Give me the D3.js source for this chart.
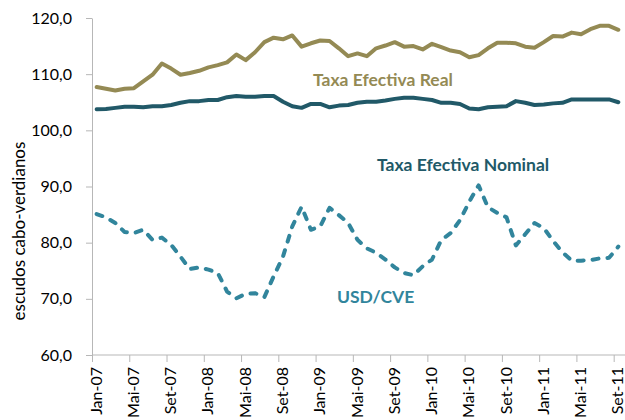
<!DOCTYPE html>
<html>
<head>
<meta charset="utf-8">
<script src="https://cdn.jsdelivr.net/npm/d3@7"></script>
<style>
  body { margin: 0; background: #fff; }
  text { font-family: Lato, "Noto Sans", sans-serif; }
</style>
</head>
<body>
<div id="container"></div>
<script>
// meses e anos (categorias mensais Jan-07 .. Set-11)
const meses = ["Jan", "Fev", "Mar", "Abr", "Mai", "Jun", "Jul", "Ago", "Set", "Out", "Nov", "Dez"];
const anos = ["07", "08", "09", "10", "11"];

const taxaReal = [107.7, 107.4, 107.1, 107.4, 107.5, 108.7, 109.9, 111.9, 111.0, 109.9, 110.2, 110.6,
    111.2, 111.6, 112.1, 113.5, 112.5, 113.9, 115.7, 116.5, 116.2, 116.9, 114.9, 115.5,
    116.0, 115.9, 114.6, 113.2, 113.7, 113.2, 114.6, 115.1, 115.7, 114.9, 115.0, 114.4,
    115.4, 114.8, 114.2, 113.9, 113.0, 113.4, 114.6, 115.6, 115.6, 115.5, 114.9, 114.7,
    115.7, 116.8, 116.7, 117.4, 117.1, 118.0, 118.6, 118.6, 117.9];

const taxaNominal = [103.75, 103.8, 104.0, 104.2, 104.2, 104.1, 104.3, 104.3, 104.5, 104.9, 105.2, 105.2,
    105.4, 105.4, 105.9, 106.1, 106.0, 106.0, 106.1, 106.1, 105.1, 104.3, 104.0, 104.7,
    104.7, 104.1, 104.4, 104.5, 104.9, 105.1, 105.1, 105.3, 105.6, 105.8, 105.8, 105.6,
    105.4, 104.9, 104.9, 104.7, 103.9, 103.75, 104.1, 104.2, 104.3, 105.2, 104.9, 104.5,
    104.6, 104.8, 104.9, 105.5, 105.5, 105.5, 105.5, 105.5, 105.0];

const usdCve = [85.1, 84.5, 83.5, 81.9, 81.7, 82.3, 80.5, 80.9, 79.6, 77.5, 75.3, 75.6,
    75.2, 74.6, 71.3, 70.1, 70.9, 71.0, 70.3, 74.0, 77.5, 82.9, 86.4, 82.3,
    82.9, 86.2, 84.9, 83.5, 80.5, 79.0, 78.2, 77.0, 75.6, 74.6, 74.2, 75.8,
    77.0, 80.5, 81.7, 84.0, 87.3, 90.2, 86.3, 85.3, 84.5, 79.5, 81.5, 83.5,
    82.6, 80.3, 78.3, 76.8, 76.8, 76.9, 77.2, 77.3, 79.3];

const yTicks = [60, 70, 80, 90, 100, 110, 120];

let categorias = [];
for (let a of anos) {
    for (let m of meses) {
        categorias.push(m + "-" + a);
    }
}
categorias = categorias.slice(0, taxaReal.length);

const width = 625;
const height = 420;
const margin = ({ top: 18, right: 2, bottom: 65, left: 92 });
const axisColor = "#b7b7b7";

let x = d3.scaleBand()
    .domain(categorias)
    .range([margin.left, width - margin.right])
    .padding(0);

let y = d3.scaleLinear()
    .domain([60, 120])
    .range([height - margin.bottom, margin.top]);

let fmt = d => d3.format(".1f")(d).replace(".", ",");

let svg = d3.select("#container").append("svg")
    .attr("width", width)
    .attr("height", height);

// eixo y
let yAxis = svg.append("g")
    .attr("transform", `translate(${margin.left},0)`)
    .call(d3.axisLeft(y).tickValues(yTicks).tickFormat(fmt).tickSize(6).tickSizeOuter(0).tickPadding(14));
yAxis.select(".domain").attr("stroke", axisColor);
yAxis.selectAll(".tick line").attr("stroke", axisColor);
yAxis.selectAll(".tick text")
    .attr("fill", "#000")
    .style("font-size", "16px");

// eixo x
let xg = svg.append("g");
xg.append("line")
    .attr("x1", margin.left)
    .attr("x2", width)
    .attr("y1", y(60))
    .attr("y2", y(60))
    .attr("stroke", axisColor);

let tickCats = categorias.filter((d, i) => i % 4 == 0);

xg.selectAll(".xt")
    .data(tickCats)
    .join("line")
    .attr("class", "xt")
    .attr("x1", d => x(d) + 0.5)
    .attr("x2", d => x(d) + 0.5)
    .attr("y1", y(60))
    .attr("y2", y(60) + 7)
    .attr("stroke", axisColor);

xg.selectAll(".xl")
    .data(tickCats)
    .join("text")
    .attr("class", "xl")
    .attr("transform", d => `translate(${x(d) + x.bandwidth() / 2 + 5},${y(60) + 12}) rotate(-90)`)
    .attr("text-anchor", "end")
    .style("font-size", "16px")
    .attr("fill", "#000")
    .text(d => d);

svg.append("text")
    .attr("transform", `translate(25,231) rotate(-90)`)
    .attr("text-anchor", "middle")
    .style("font-size", "17px")
    .attr("fill", "#000")
    .text("escudos cabo-verdianos");

// linhas
let line = d3.line()
    .x((d, i) => x(categorias[i]) + x.bandwidth() / 2)
    .y(d => y(d));

let series = [
    { values: taxaReal, color: "#948a54", dash: null },
    { values: taxaNominal, color: "#215968", dash: null },
    { values: usdCve, color: "#31859c", dash: "6,9" }
];

svg.append("g")
    .selectAll("path")
    .data(series)
    .join("path")
    .attr("fill", "none")
    .attr("stroke", d => d.color)
    .attr("stroke-width", 4)
    .attr("stroke-linejoin", "round")
    .attr("stroke-linecap", "round")
    .attr("stroke-dasharray", d => d.dash)
    .attr("d", d => line(d.values));

// rótulos das séries
let rotulos = [
    { text: "Taxa Efectiva Real", color: "#948a54", x: 313, y: 86 },
    { text: "Taxa Efectiva Nominal", color: "#215968", x: 377, y: 171 },
    { text: "USD/CVE", color: "#31859c", x: 337, y: 303 }
];

svg.append("g")
    .selectAll("text")
    .data(rotulos)
    .join("text")
    .attr("x", d => d.x)
    .attr("y", d => d.y)
    .attr("fill", d => d.color)
    .style("font-size", "17.5px")
    .style("font-weight", "bold")
    .text(d => d.text);
</script>
</body>
</html>
